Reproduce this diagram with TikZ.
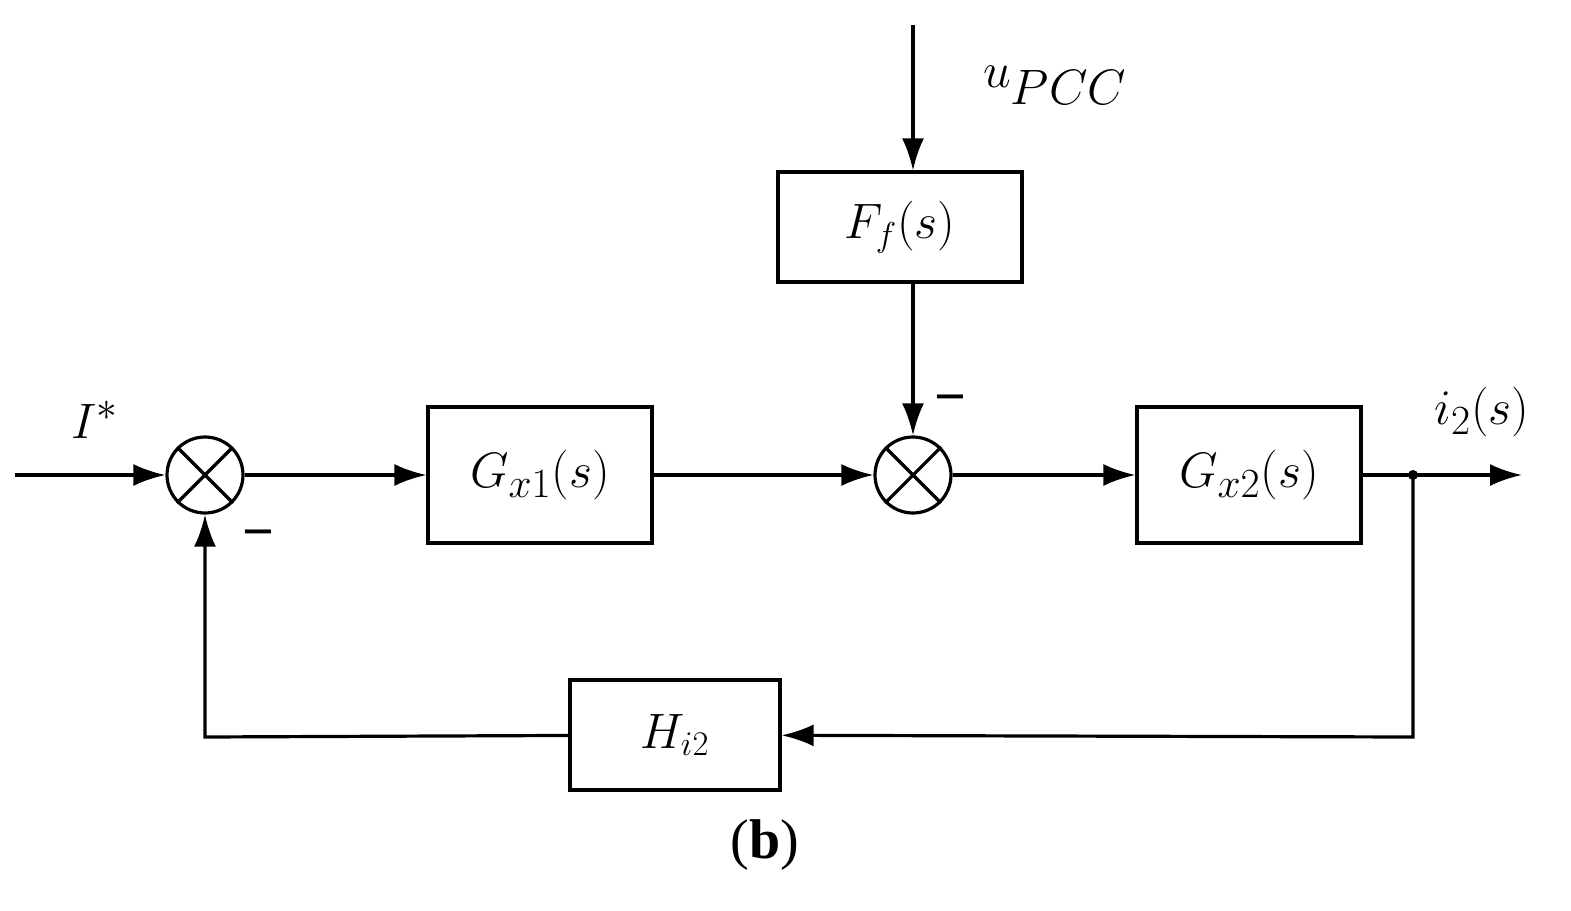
\documentclass[tikz,border=0pt]{standalone}
\usepackage{fontspec}
\setmainfont{Liberation Serif}
\usetikzlibrary{arrows.meta}
\begin{document}
\begin{tikzpicture}[x=0.5pt,y=-0.5pt,
  ln/.style={line width=1.6pt},
  ar/.style={ln,-{Latex[length=16pt,width=11pt]}},
  box/.style={draw,line width=1.6pt,inner sep=0pt},
  sum/.style={draw,line width=1.6pt,circle,minimum size=38pt,inner sep=0pt}]
\useasboundingbox (0,0) rectangle (1571,911);
\node[sum] (s1) at (205,475) {};
\draw[ln] (s1.north west) -- (s1.south east) (s1.north east) -- (s1.south west);
\node[sum] (s2) at (913,475) {};
\draw[ln] (s2.north west) -- (s2.south east) (s2.north east) -- (s2.south west);
\node[box,minimum width=112pt,minimum height=68pt] (g1) at (540,475) {\fontsize{32}{36}\selectfont $G_{x1}(s)$};
\node[box,minimum width=112pt,minimum height=68pt] (g2) at (1249,475) {\fontsize{32}{36}\selectfont $G_{x2}(s)$};
\node[box,minimum width=122pt,minimum height=55pt] (ff) at (900,227) {\fontsize{24}{28}\selectfont $F_f(s)$};
\node[box,minimum width=105pt,minimum height=55pt] (h) at (675,735) {\fontsize{26}{30}\selectfont $H_{i2}$};
\coordinate (in) at (15,475);
\coordinate (top) at (913,25);
\coordinate (dot) at (1413,475);
\coordinate (out) at (1522,475);
\coordinate (c1) at (1413,737);
\coordinate (c2) at (205,737);
\fill (dot) circle (5);
\draw[ar] (in) -- (s1);
\draw[ar] (s1) -- (g1);
\draw[ar] (g1) -- (s2);
\draw[ar] (s2) -- (g2);
\draw[ln] (g2) -- (dot);
\draw[ar] (dot) -- (out);
\draw[ar] (top) -- (top|-ff.north);
\draw[ar] (top|-ff.south) -- (s2);
\draw[ar] (dot) -- (c1) -- (h);
\draw[ar] (h) -- (c2) -- (s1);
\node (ls) at (95,420) {\fontsize{28}{32}\selectfont $I^*$};
\node (lu) at (1055,85) {\fontsize{38}{42}\selectfont $u_{PCC}$};
\node (li) at (1482,412) {\fontsize{28}{32}\selectfont $i_2(s)$};
\node (m1) at (950,405) {\fontsize{28}{32}\selectfont\bfseries −};
\node (m2) at (258,540) {\fontsize{28}{32}\selectfont\bfseries −};
\node (lb) at (765,845) {\fontsize{28}{32}\selectfont (\textbf{b})};
\end{tikzpicture}
\end{document}
